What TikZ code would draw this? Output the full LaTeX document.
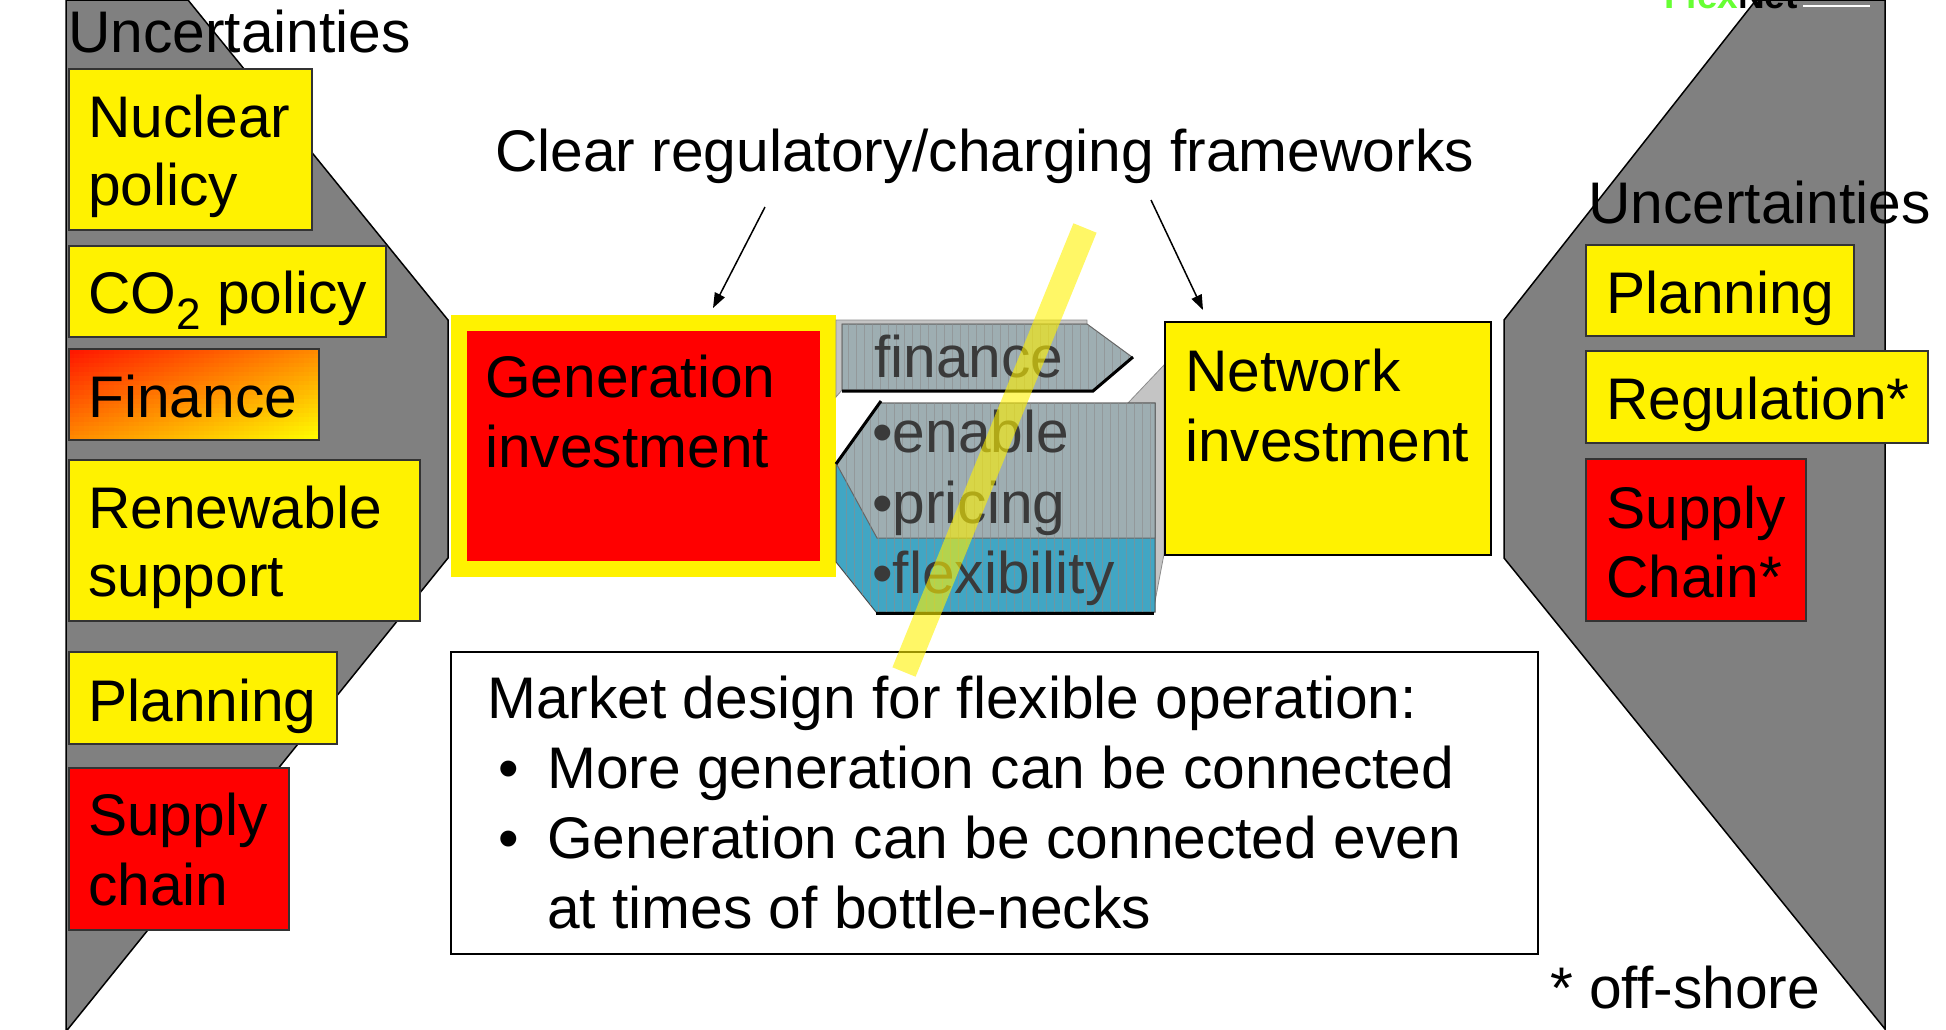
\documentclass[tikz,border=0pt]{standalone}
\usepackage{fontspec}
\setmainfont{Liberation Sans}
\usetikzlibrary{arrows.meta,fit}
\definecolor{shapegrey}{RGB}{128,128,128}
\definecolor{arrowgrey}{RGB}{158,174,178}
\definecolor{arrowblue}{RGB}{65,166,196}
\definecolor{facegrey}{RGB}{196,196,196}
\definecolor{flexgreen}{RGB}{102,255,51}
\definecolor{arrtext}{RGB}{58,58,58}
\begin{document}
\begin{tikzpicture}[x=1pt,y=-1pt,
  big/.style={font=\fontsize{58.7}{68}\selectfont, inner sep=0, anchor=base west},
  arrtxt/.style={big, text=arrtext},
  greyshape/.style={fill=shapegrey, draw=black, line width=1.5pt, line join=miter},
  ybox/.style={fill=yellow, draw=black!80, line width=1.5pt, inner sep=0},
  rbox/.style={fill=red, draw=black!80, line width=1.5pt, inner sep=0},
  face/.style={fill=facegrey, draw=black!45, line width=0.8pt},
  greyarrow/.style={fill=arrowgrey, draw=black!60, line width=1pt},
  bluearrow/.style={fill=arrowblue, draw=black!70, line width=1pt},
  stripe/.style={draw=black!45, line width=0.7pt, opacity=0.6},
  edge3d/.style={draw=black, line width=3pt},
  conn/.style={draw=black, line width=1.5pt, -{Triangle[length=15pt,width=11pt]}},
  logo/.style={font=\fontsize{37}{37}\selectfont\bfseries, inner sep=0, anchor=base west}
]
\useasboundingbox (0,0) rectangle (1946,1029);

% grey background shapes
\draw[greyshape] (66,0) -- (188,0) -- (448,320) -- (448,558) -- (68,1029) -- (66,1029) -- cycle;
\draw[greyshape] (1756,0) -- (1885,0) -- (1885,1029) -- (1504,558) -- (1504,320) -- cycle;

% logo fragment at the top edge
\begin{scope}
\clip (0,0) rectangle (1946,1029);
\node[logo] (logo) at (1664,8) {\textcolor{flexgreen}{Flex}Net};
\draw[white, line width=2pt] (1803,6) -- (1870,6);
\end{scope}

% left uncertainties
\node[big] (uncL) at (68,52) {Uncertainties};
\node[ybox, fit={(69,69) (312,230)}] (nuc) {};
\node[big] (nucA) at (88,137) {Nuclear};
\node[big] (nucB) at (88,205) {policy};
\node[ybox, fit={(69,246) (386,337)}] (co2) {};
\node[big] (co2T) at (88,313) {CO\raisebox{-16pt}{\fontsize{44}{44}\selectfont 2} policy};
% diagonal red-to-yellow gradient of the Finance box
\foreach \i in {0,...,49} {
  \foreach \j in {0,...,19} {
    \pgfmathtruncatemacro{\g}{20+235*((\i+0.5)/50+(\j+0.5)/20)/2}
    \definecolor{fincell}{RGB}{255,\g,0}
    \fill[fincell] ({69+5*\i},{349+4.55*\j}) rectangle ++(5.4,4.9);
  }
}
\node[draw=black!80, line width=1.5pt, inner sep=0, fit={(69,349) (319,440)}] (fin) {};
\node[big] (finT) at (88,417) {Finance};
\node[ybox, fit={(69,460) (420,621)}] (ren) {};
\node[big] (renA) at (88,528) {Renewable};
\node[big] (renB) at (88,596) {support};
\node[ybox, fit={(69,652) (337,744)}] (plaL) {};
\node[big] (plaLT) at (88,721) {Planning};
\node[rbox, fit={(69,768) (289,930)}] (supL) {};
\node[big] (supLA) at (88,835) {Supply};
\node[big] (supLB) at (88,905) {chain};

% right uncertainties
\node[big] (uncR) at (1588,223) {Uncertainties};
\node[ybox, fit={(1586,245) (1854,336)}] (plaR) {};
\node[big] (plaRT) at (1606,313) {Planning};
\node[ybox, fit={(1586,351) (1928,443)}] (reg) {};
\node[big] (regT) at (1606,419) {Regulation*};
\node[rbox, fit={(1586,459) (1806,621)}] (supR) {};
\node[big] (supRA) at (1606,528) {Supply};
\node[big] (supRB) at (1606,597) {Chain*};
\node[big] (offs) at (1550,1008) {* off-shore};

% generation investment
\node[fill=yellow, inner sep=0, fit={(451,315) (836,577)}] (genO) {};
\node[fill=red, inner sep=0, fit={(467,331) (820,561)}] (gen) {};
\node[big] (genA) at (485,397) {Generation};
\node[big] (genB) at (485,467) {investment};

% 3D side faces
\draw[face] (836,320) -- (1087,320) -- (1087,324) -- (842,324) -- (842,390) -- (836,397) -- cycle;
\draw[face] (1128,403) -- (1164,365) -- (1164,554) -- (1153,612) -- (1155,403) -- cycle;

% lower (left-pointing) arrows
\draw[bluearrow] (836,463) -- (880,403) -- (1155,403) -- (1155,612) -- (876,612) -- (836,562) -- cycle;
\draw[greyarrow] (836,463) -- (880,403) -- (1155,403) -- (1155,538) -- (877,538) -- cycle;
\begin{scope}
\clip (836,463) -- (880,403) -- (1155,403) -- (1155,612) -- (876,612) -- (836,562) -- cycle;
\foreach \x in {846,854,...,1154} \draw[stripe] (\x,400) -- (\x,616);
\end{scope}
\draw[edge3d] (836,464) -- (881,401);
\draw[edge3d] (876,613) -- (1154,613);

% finance (right-pointing) arrow
\draw[greyarrow] (842,324) -- (1087,324) -- (1132,357) -- (1093,390) -- (842,390) -- cycle;
\begin{scope}
\clip (842,324) -- (1087,324) -- (1132,357) -- (1093,390) -- (842,390) -- cycle;
\foreach \x in {848,856,...,1130} \draw[stripe] (\x,322) -- (\x,392);
\end{scope}
\draw[edge3d, line join=miter] (842,391) -- (1093,391) -- (1133,357);

\node[arrtxt] (finA) at (874,377) {finance};
\node[arrtxt] (ena) at (872,452) {•enable};
\node[arrtxt] (pri) at (872,523) {•pricing};
\node[arrtxt] (flx) at (872,593) {•flexibility};

% network investment
\node[fill=yellow, draw=black, line width=2pt, inner sep=0, fit={(1165,322) (1491,555)}] (net) {};
\node[big] (netA) at (1185,391) {Network};
\node[big] (netB) at (1185,461) {investment};

% market design box
\node[fill=white, draw=black, line width=1.5pt, inner sep=0, fit={(451,652) (1538,954)}] (mkt) {};
\node[big] (mktA) at (487,718) {Market design for flexible operation:};
\node[big] (mktB1) at (498,788) {•};
\node[big] (mktB) at (547,788) {More generation can be connected};
\node[big] (mktC1) at (498,858) {•};
\node[big] (mktC) at (547,858) {Generation can be connected even};
\node[big] (mktD) at (547,928) {at times of bottle-necks};

% translucent yellow band
\coordinate (bandA) at (1085,228);
\coordinate (bandB) at (904,672);
\draw[yellow, opacity=0.6, line width=25pt] (bandA) -- (bandB);

% title and arrows
\node[big] (title) at (495,171) {Clear regulatory/charging frameworks};
\coordinate (t1) at (765,207);
\coordinate (g1) at (713,308);
\coordinate (t2) at (1151,200);
\coordinate (n1) at (1203,310);
\draw[conn] (t1) -- (g1);
\draw[conn] (t2) -- (n1);
\end{tikzpicture}
\end{document}
